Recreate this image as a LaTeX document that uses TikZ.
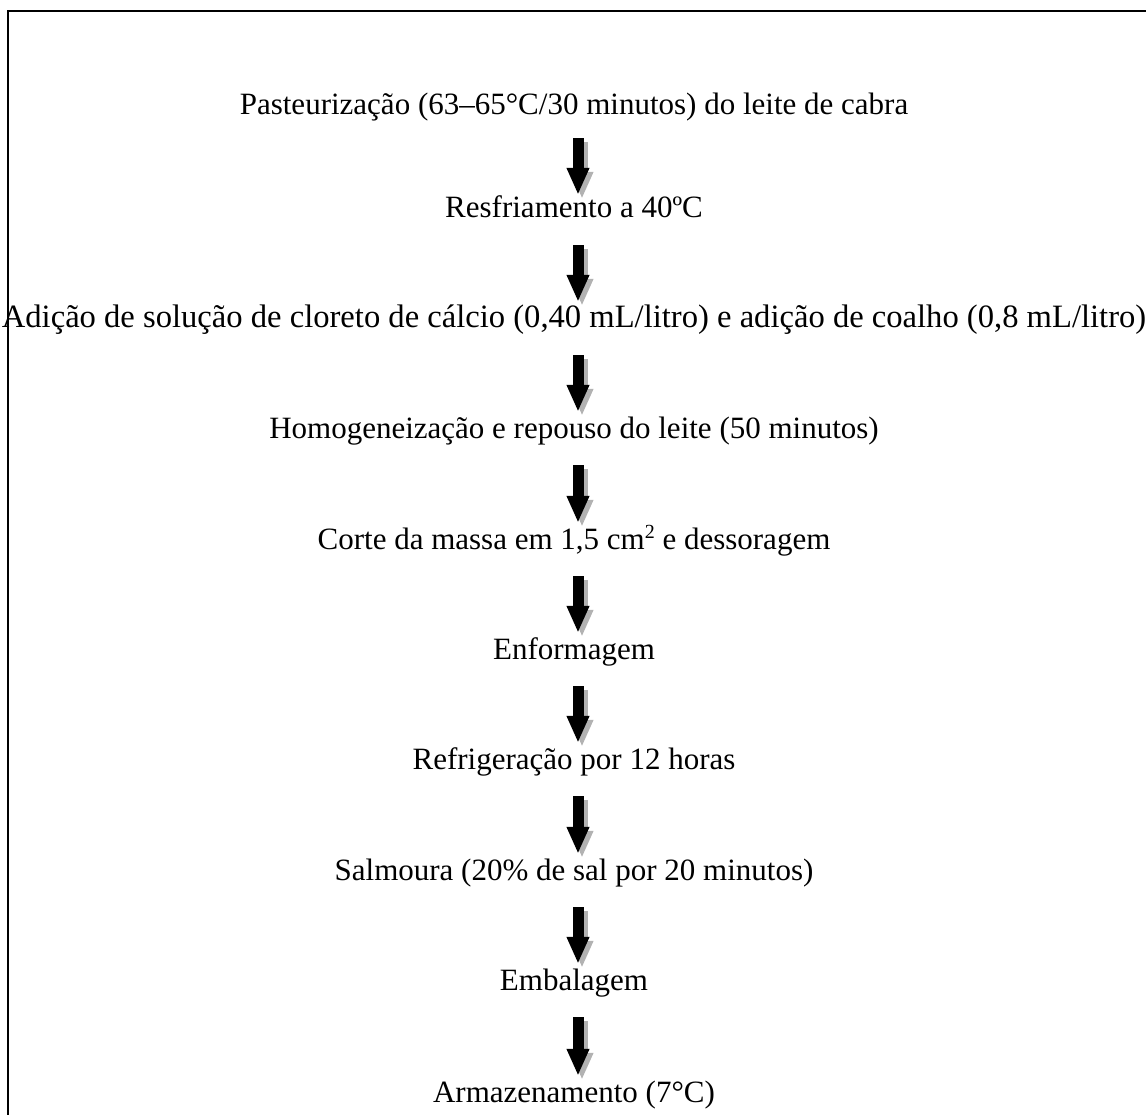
\documentclass[tikz,border=0pt]{standalone}
\usepackage{fontspec}
\setmainfont{Liberation Serif}
\usetikzlibrary{arrows.meta,positioning}

\begin{document}
\begin{tikzpicture}[x=1pt,y=-1pt,
  etapa/.style={inner sep=0pt,anchor=base,text height=19pt,text depth=6pt,
    font=\fontsize{31}{37}\selectfont},
  larga/.style={font=\fontsize{32.6}{39}\selectfont},
  seta/.style={line width=11pt,-{Triangle[width=21pt,length=27pt]}},
  sombra/.style={seta,draw=gray!60,transform canvas={xshift=4pt,yshift=-4pt}}]
\useasboundingbox (0,0) rectangle (1146,1115);
\clip (0,0) rectangle (1146,1115);
% moldura
\draw[line width=2pt] (8,1140) -- (8,11) -- (1160,11);
% etapas
\node[etapa] (s1) at (574,115) {Pasteurização (63–65°C/30 minutos) do leite de cabra};
\node[etapa] (s2) at (574,218) {Resfriamento a 40ºC};
\node[etapa,larga] (s3) at (574,328) {Adição de solução de cloreto de cálcio (0,40 mL/litro) e adição de coalho (0,8 mL/litro)};
\node[etapa] (s4) at (574,438) {Homogeneização e repouso do leite (50 minutos)};
\node[etapa] (s5) at (574,549) {Corte da massa em 1,5 cm\raisebox{11pt}{\fontsize{20}{20}\selectfont 2} e dessoragem};
\node[etapa] (s6) at (574,659) {Enformagem};
\node[etapa] (s7) at (574,769) {Refrigeração por 12 horas};
\node[etapa] (s8) at (574,880) {Salmoura (20\% de sal por 20 minutos)};
\node[etapa] (s9) at (574,990) {Embalagem};
\node[etapa] (s10) at (574,1102) {Armazenamento (7°C)};
\coordinate (eixo) at (578,0);
% setas
\foreach \a/\b/\ini/\fim in {s1/s2/17/4, s2/s3/21/7, s3/s4/21/7, s4/s5/21/7,
    s5/s6/21/7, s6/s7/21/7, s7/s8/21/7, s8/s9/21/7, s9/s10/21/7}{
  \draw[sombra,shorten <=\ini pt,shorten >=\fim pt] (\a.south -| eixo) -- (\b.north -| eixo);
  \draw[seta,shorten <=\ini pt,shorten >=\fim pt] (\a.south -| eixo) -- (\b.north -| eixo);
}
\end{tikzpicture}
\end{document}
